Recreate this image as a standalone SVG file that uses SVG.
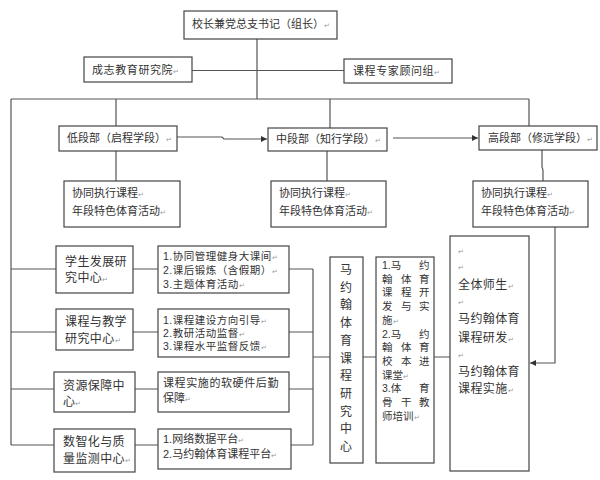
<svg xmlns="http://www.w3.org/2000/svg" width="600" height="480" viewBox="0 0 600 480">
<defs>
<style>
.b{fill:#fff;stroke:#444;stroke-width:1.2}
.c{fill:none;stroke:#555;stroke-width:1.2}
text{font-family:"Liberation Sans","Noto Sans CJK SC",sans-serif;fill:#333;font-size:11px}
.d{font-size:10.5px}
.l{font-size:12px;letter-spacing:0.4px}
.pm{font-size:7px;fill:#999;letter-spacing:0}
</style>
<marker id="ah" viewBox="0 0 8 8" refX="8" refY="4" markerWidth="6" markerHeight="6" orient="auto" markerUnits="userSpaceOnUse">
<path d="M0,0 L8,4 L0,8 Z" fill="#333"/>
</marker>
</defs>
<rect width="600" height="480" fill="#fff"/>
<g id="connectors">
<path class="c" d="M257,39 V99 M192,70.5 H344 M11,99 H529 M11,99 V445 M116,99 V126 M330,99 V128 M529,99 V126"/>
<path class="c" d="M116,151 V181 M327,151 V181 M542,150 V167 L543,170 V181"/>
<path class="c" d="M177,137 H222 L224,139 H267" marker-end="url(#ah)"/>
<path class="c" d="M393,138 H478" marker-end="url(#ah)"/>
<path class="c" d="M555,227 V363 H530" marker-end="url(#ah)"/>
<path class="c" d="M11,269 H56 M11,332 H56 M11,389 H54 M11,445 H54"/>
<path class="c" d="M133,269 H158 M133,332 H158 M135,389 H158 M135,445 H158"/>
<path class="c" d="M289,269 H313 M289,332 H313 M289,389 H313 M291,445 H313 M313,269 V445 M313,357 H330 M363,357 H376 M434,357 H450"/>
</g>
<g id="n_head"><rect class="b" x="184" y="11" width="153" height="28"/><text x="192" y="28">校长兼党总支书记（组长）<tspan class="pm">↵</tspan></text></g>
<g id="n_chengzhi"><rect class="b" x="84" y="57" width="108" height="25"/><text x="92" y="74" style="letter-spacing:0.6px">成志教育研究院<tspan class="pm">↵</tspan></text></g>
<g id="n_expert"><rect class="b" x="344" y="59" width="108" height="24"/><text x="353" y="75" style="letter-spacing:0.6px">课程专家顾问组<tspan class="pm">↵</tspan></text></g>
<g id="n_low"><rect class="b" x="59" y="126" width="118" height="25"/><text x="67" y="142">低段部（启程学段）<tspan class="pm">↵</tspan></text></g>
<g id="n_mid"><rect class="b" x="268" y="128" width="119" height="23"/><text x="276" y="143">中段部（知行学段）<tspan class="pm">↵</tspan></text></g>
<g id="n_high"><rect class="b" x="479" y="126" width="118" height="24"/><text x="488" y="142">高段部（修远学段）<tspan class="pm">↵</tspan></text></g>
<g id="n_low_act"><rect class="b" x="64" y="181" width="116" height="46"/><text x="72" y="197">协同执行课程<tspan class="pm">↵</tspan></text><text x="72" y="215">年段特色体育活动<tspan class="pm">↵</tspan></text></g>
<g id="n_mid_act"><rect class="b" x="271" y="181" width="115" height="46"/><text x="279" y="197">协同执行课程<tspan class="pm">↵</tspan></text><text x="279" y="215">年段特色体育活动<tspan class="pm">↵</tspan></text></g>
<g id="n_high_act"><rect class="b" x="473" y="181" width="115" height="46"/><text x="481" y="197">协同执行课程<tspan class="pm">↵</tspan></text><text x="481" y="215">年段特色体育活动<tspan class="pm">↵</tspan></text></g>
<g id="n_student"><rect class="b" x="56" y="246" width="77" height="47"/><text class="l" x="65" y="266">学生发展研</text><text class="l" x="65" y="282">究中心<tspan class="pm">↵</tspan></text></g>
<g id="n_course"><rect class="b" x="56" y="309" width="77" height="41"/><text class="l" x="65" y="326">课程与教学</text><text class="l" x="65" y="343">研究中心<tspan class="pm">↵</tspan></text></g>
<g id="n_resource"><rect class="b" x="54" y="372" width="81" height="40"/><text class="l" x="63" y="390">资源保障中</text><text class="l" x="63" y="406">心<tspan class="pm">↵</tspan></text></g>
<g id="n_data"><rect class="b" x="54" y="429" width="81" height="43"/><text class="l" x="63" y="446">数智化与质</text><text class="l" x="63" y="463">量监测中心<tspan class="pm">↵</tspan></text></g>
<g id="n_student_list"><rect class="b" x="158" y="246" width="131" height="47"/><text class="d" x="163" y="260" style="letter-spacing:0.5px">1.协同管理健身大课间<tspan class="pm">↵</tspan></text><text class="d" x="163" y="274" style="letter-spacing:0.5px">2.课后锻炼（含假期）<tspan class="pm">↵</tspan></text><text class="d" x="163" y="288" style="letter-spacing:0.5px">3.主题体育活动<tspan class="pm">↵</tspan></text></g>
<g id="n_course_list"><rect class="b" x="158" y="309" width="131" height="48"/><text class="d" x="163" y="324" style="letter-spacing:0.5px">1.课程建设方向引导<tspan class="pm">↵</tspan></text><text class="d" x="163" y="337" style="letter-spacing:0.5px">2.教研活动监督<tspan class="pm">↵</tspan></text><text class="d" x="163" y="350" style="letter-spacing:0.5px">3.课程水平监督反馈<tspan class="pm">↵</tspan></text></g>
<g id="n_resource_list"><rect class="b" x="158" y="372" width="131" height="40"/><text x="163" y="387" style="letter-spacing:0.6px">课程实施的软硬件后勤</text><text x="163" y="402">保障<tspan class="pm">↵</tspan></text></g>
<g id="n_data_list"><rect class="b" x="158" y="429" width="133" height="40"/><text x="163" y="443">1.网络数据平台<tspan class="pm">↵</tspan></text><text x="163" y="458">2.马约翰体育课程平台<tspan class="pm">↵</tspan></text></g>
<g id="n_myh_center"><rect class="b" x="330" y="257" width="33" height="206"/>
<text class="l" text-anchor="middle" style="letter-spacing:0"><tspan x="346" y="274">马</tspan><tspan x="346" y="291.7">约</tspan><tspan x="346" y="309.4">翰</tspan><tspan x="346" y="327.1">体</tspan><tspan x="346" y="344.8">育</tspan><tspan x="346" y="362.5">课</tspan><tspan x="346" y="380.2">程</tspan><tspan x="346" y="397.9">研</tspan><tspan x="346" y="415.6">究</tspan><tspan x="346" y="433.3">中</tspan><tspan x="346" y="451">心</tspan></text></g>
<g id="n_myh_list"><rect class="b" x="376" y="257" width="58" height="206"/>
<text class="d" x="382" y="269">1.马</text><text class="d" x="419" y="269">约</text>
<text class="d" x="382 401 419" y="282.7">翰体育</text>
<text class="d" x="382 401 419" y="296.4">课程开</text>
<text class="d" x="382 401 419" y="310.1">发与实</text>
<text class="d" x="382" y="323.8">施<tspan class="pm">↵</tspan></text>
<text class="d" x="382" y="337.5">2.马</text><text class="d" x="419" y="337.5">约</text>
<text class="d" x="382 401 419" y="351.2">翰体育</text>
<text class="d" x="382 401 419" y="364.9">校本进</text>
<text class="d" x="382" y="378.6">课堂<tspan class="pm">↵</tspan></text>
<text class="d" x="382" y="392.3">3.体</text><text class="d" x="419" y="392.3">育</text>
<text class="d" x="382 401 419" y="406">骨干教</text>
<text class="d" x="382" y="419.7">师培训<tspan class="pm">↵</tspan></text></g>
<g id="n_all"><rect class="b" x="450" y="236" width="79" height="235"/>
<text class="pm" x="458" y="254">↵</text><text class="pm" x="458" y="270">↵</text>
<text class="l" x="458" y="289">全体师生<tspan class="pm">↵</tspan></text>
<text class="pm" x="458" y="305">↵</text>
<text class="l" x="458" y="323">马约翰体育</text>
<text class="l" x="458" y="342">课程研发<tspan class="pm">↵</tspan></text>
<text class="pm" x="458" y="358">↵</text>
<text class="l" x="458" y="376">马约翰体育</text>
<text class="l" x="458" y="393">课程实施<tspan class="pm">↵</tspan></text></g>
</svg>
